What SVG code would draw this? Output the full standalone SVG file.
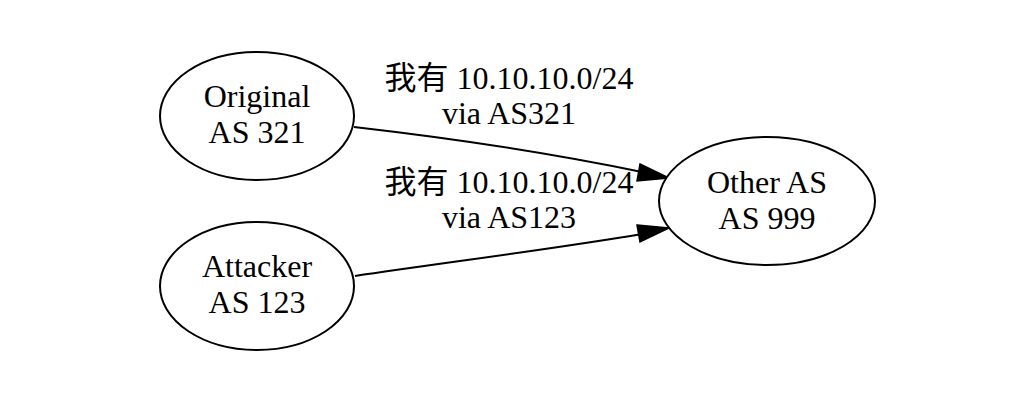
<svg xmlns="http://www.w3.org/2000/svg" width="1024" height="402" viewBox="0 0 1024 402">
<style>
.n{fill:#fff;stroke:#000;stroke-width:2}
.t{font-family:"Liberation Serif","Noto Sans CJK SC",serif;font-size:32px;text-anchor:middle;fill:#000}
.e{fill:none;stroke:#000;stroke-width:2}
</style>
<rect width="1024" height="402" fill="#fff"/>
<g id="edges">
<path class="e" d="M354,127 C450,138 560,155 642,172"/>
<path d="M640,164 L669,178 L637,181 Z" fill="#000" stroke="#000" stroke-width="1.5"/>
<path class="e" d="M355,276 C450,262 560,248 642,234"/>
<path d="M637,225 L669,228 L640,242 Z" fill="#000" stroke="#000" stroke-width="1.5"/>
<text class="t" x="509" y="89">我有 10.10.10.0/24</text>
<text class="t" x="509" y="124">via AS321</text>
<text class="t" x="509" y="193">我有 10.10.10.0/24</text>
<text class="t" x="509" y="228">via AS123</text>
</g>
<g id="original">
<ellipse class="n" cx="257" cy="116" rx="97" ry="64"/>
<text class="t" x="257" y="107">Original</text>
<text class="t" x="257" y="143">AS 321</text>
</g>
<g id="attacker">
<ellipse class="n" cx="257" cy="286" rx="97" ry="64"/>
<text class="t" x="257" y="277">Attacker</text>
<text class="t" x="257" y="313">AS 123</text>
</g>
<g id="other">
<ellipse class="n" cx="767" cy="201" rx="108" ry="64"/>
<text class="t" x="767" y="193">Other AS</text>
<text class="t" x="767" y="229">AS 999</text>
</g>
</svg>
